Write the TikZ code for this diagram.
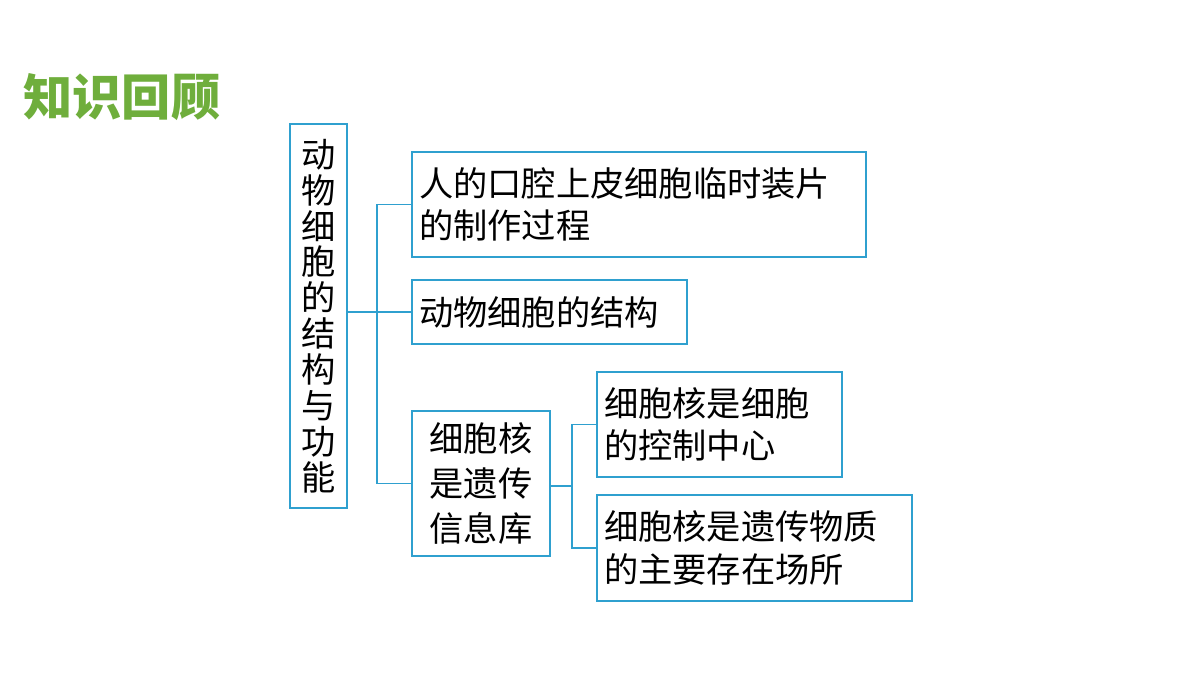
\documentclass[tikz,border=0pt]{standalone}
\usepackage{fontspec}
\setmainfont{Noto Sans CJK SC}
\usetikzlibrary{positioning}
\definecolor{boxblue}{HTML}{2FA0CF}
\definecolor{titlegreen}{HTML}{6FAE3C}
\tikzset{
  box/.style={draw=boxblue,line width=1.1pt,inner sep=0pt,align=left,font=\fontsize{19.5}{24}\selectfont},
  conn/.style={draw=boxblue,line width=1.1pt}
}
\begin{document}
\begin{tikzpicture}[x=0.02cm,y=-0.02cm]
  \useasboundingbox (0,0) rectangle (1200,675);
  \node[font=\fontsize{28}{30}\selectfont\bfseries,text=titlegreen] (title) at (122,97) {知识回顾};

  \node[box,minimum width=57*0.02cm,minimum height=384*0.02cm,align=center,
        font=\fontsize{19.5}{20.4}\selectfont] (root) at (318.5,316)
        {动\\物\\细\\胞\\的\\结\\构\\与\\功\\能};
  \node[box,minimum width=454*0.02cm,minimum height=105*0.02cm,text width=440*0.02cm] (make) at (639,204.5)
        {人的口腔上皮细胞临时装片\\的制作过程};
  \node[box,minimum width=275*0.02cm,minimum height=64*0.02cm,text width=261*0.02cm] (struct) at (549.5,312)
        {动物细胞的结构};
  \node[box,minimum width=138*0.02cm,minimum height=145*0.02cm,align=center,
        font=\fontsize{19.5}{25.5}\selectfont] (nucleus) at (481,483.5)
        {细胞核\\是遗传\\信息库};
  \node[box,minimum width=245*0.02cm,minimum height=105*0.02cm,text width=231*0.02cm] (control) at (719.5,424.5)
        {细胞核是细胞\\的控制中心};
  \node[box,minimum width=315*0.02cm,minimum height=106*0.02cm,text width=301*0.02cm] (store) at (754.5,548)
        {细胞核是遗传物质\\的主要存在场所};

  \coordinate (trunk) at (377,312);
  \coordinate (fork) at (572,486);
  \draw[conn] (root.east |- trunk) -- (trunk);
  \draw[conn] (make.west) -| (trunk) |- (nucleus.west);
  \draw[conn] (trunk) -- (struct.west);
  \draw[conn] (nucleus.east |- fork) -- (fork);
  \draw[conn] (control.west) -| (fork) |- (store.west);
\end{tikzpicture}
\end{document}
